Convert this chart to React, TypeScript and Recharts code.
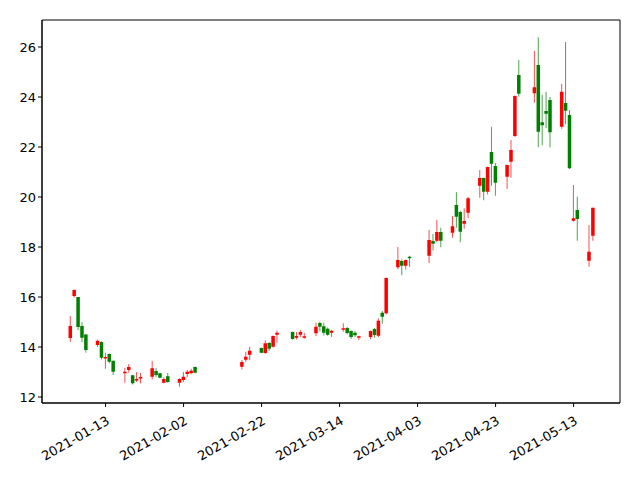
import { Bar, BarChart, ReferenceArea, XAxis, YAxis } from 'recharts'

// day index counted from 2021-01-01
const days = [3, 4, 5, 6, 7, 10, 11, 12, 13, 14, 17, 18, 19, 20, 21, 24, 25, 26, 27, 28, 31, 32, 33, 34, 35, 47, 48, 49, 52, 53, 54, 55, 56, 60, 61, 62, 63, 66, 67, 68, 69, 70, 73, 74, 75, 76, 77, 80, 81, 82, 83, 84, 87, 88, 89, 90, 95, 96, 97, 98, 101, 102, 103, 104, 105, 108, 109, 110, 111, 112, 115, 116, 117, 118, 122, 123, 124, 125, 126, 129, 130, 131, 132, 133, 136, 137]
const opens = [14.36, 16.04, 16.0, 14.84, 14.5, 14.08, 14.2, 13.58, 13.72, 13.45, 12.99, 13.08, 12.87, 12.7, 12.78, 12.81, 13.04, 12.95, 12.57, 12.83, 12.57, 12.68, 12.92, 12.96, 13.2, 13.21, 13.49, 13.69, 13.96, 13.76, 14.16, 14.01, 14.49, 14.6, 14.37, 14.49, 14.41, 14.55, 14.96, 14.83, 14.73, 14.57, 14.73, 14.76, 14.64, 14.57, 14.41, 14.4, 14.72, 14.45, 15.37, 15.35, 17.19, 17.44, 17.25, 17.61, 17.65, 18.24, 18.25, 18.6, 18.57, 19.68, 19.4, 18.93, 19.37, 20.45, 20.76, 20.21, 21.8, 21.24, 20.81, 21.41, 22.44, 24.88, 24.15, 25.28, 22.99, 23.44, 23.88, 22.81, 23.76, 23.28, 19.05, 19.48, 17.45, 18.45]
const closes = [14.84, 16.28, 14.8, 14.37, 13.88, 14.25, 13.57, 13.6, 13.41, 13.01, 13.01, 13.2, 12.55, 12.72, 12.8, 13.15, 12.88, 12.77, 12.72, 12.6, 12.72, 12.81, 13.01, 13.05, 12.97, 13.4, 13.61, 13.85, 13.77, 14.15, 13.93, 14.44, 14.57, 14.32, 14.44, 14.6, 14.43, 14.81, 14.81, 14.57, 14.49, 14.65, 14.75, 14.56, 14.4, 14.47, 14.43, 14.64, 14.48, 15.05, 15.21, 16.76, 17.48, 17.25, 17.48, 17.55, 18.28, 18.13, 18.6, 18.25, 18.83, 19.21, 18.61, 19.04, 19.95, 20.76, 20.21, 21.2, 21.33, 20.57, 21.28, 21.88, 24.04, 24.13, 24.39, 22.61, 22.87, 23.33, 22.59, 24.21, 23.45, 21.15, 19.15, 19.12, 17.81, 19.57]
const highs = [15.24, 16.3, 16.0, 15.0, 14.52, 14.3, 14.22, 13.77, 13.74, 13.45, 13.17, 13.32, 12.87, 13.0, 12.96, 13.44, 13.15, 12.97, 12.79, 12.96, 12.75, 13.0, 13.08, 13.13, 13.22, 13.48, 13.81, 14.01, 13.98, 14.27, 14.2, 14.46, 14.65, 14.62, 14.6, 14.68, 14.57, 14.97, 15.01, 14.97, 14.78, 14.68, 14.95, 14.8, 14.66, 14.64, 14.45, 14.66, 14.76, 15.14, 15.44, 16.78, 18.0, 17.5, 17.5, 17.65, 18.68, 18.52, 19.08, 18.77, 19.24, 20.19, 19.45, 19.55, 20.0, 21.08, 20.78, 21.22, 22.81, 21.36, 21.3, 22.28, 24.06, 25.48, 25.84, 26.39, 24.08, 24.21, 24.0, 24.53, 26.2, 23.48, 20.48, 20.01, 18.88, 19.57]
const lows = [14.2, 15.98, 14.68, 14.2, 13.77, 14.0, 13.5, 13.13, 13.35, 12.88, 12.57, 12.97, 12.5, 12.6, 12.54, 12.7, 12.8, 12.75, 12.55, 12.57, 12.41, 12.6, 12.79, 12.9, 12.95, 13.1, 13.41, 13.47, 13.75, 13.73, 13.85, 13.98, 14.17, 14.3, 14.3, 14.4, 14.33, 14.44, 14.62, 14.46, 14.45, 14.4, 14.61, 14.5, 14.32, 14.4, 14.28, 14.31, 14.37, 14.4, 14.93, 15.3, 17.11, 16.87, 17.1, 17.2, 17.36, 17.86, 18.2, 17.99, 18.37, 18.77, 18.19, 18.73, 19.15, 19.97, 19.87, 20.1, 20.45, 20.05, 20.32, 20.77, 22.4, 24.01, 23.77, 21.99, 22.07, 22.75, 21.99, 22.73, 22.92, 21.12, 19.01, 18.25, 17.21, 18.25]

const tickDays = [12, 32, 52, 72, 92, 112, 132]
const yTicks = [12, 14, 16, 18, 20, 22, 24, 26]

const X_DOMAIN = [-4.3, 143.9]
const Y_DOMAIN = [11.76, 27.08]

const data = days.map((d, i) => ({
  day: d,
  open: opens[i],
  close: closes[i],
  high: highs[i],
  low: lows[i],
  range: [lows[i], highs[i]],
}))

const fmtDay = (d: number) => {
  const t = new Date(Date.UTC(2021, 0, 1 + d))
  return t.toISOString().slice(0, 10)
}

const Candle = (props: any) => {
  const { x, y, width, height, payload } = props
  const { open, close, high, low } = payload
  const up = close >= open
  const color = up ? '#ff0000' : '#008000'
  const k = high > low ? height / (high - low) : 0
  const top = y + (high - Math.max(open, close)) * k
  const bodyH = Math.max(Math.abs(close - open) * k, 1.5)
  const cx = x + width / 2
  return (
    <g>
      <line x1={cx} x2={cx} y1={y} y2={y + height} stroke={color} strokeOpacity={0.7} strokeWidth={1} />
      <rect x={x} y={top} width={width} height={bodyH} fill={color} />
    </g>
  )
}

const TickLabel = ({ x, y, payload }: any) => (
  <text x={x} y={y + 6} transform={`rotate(-30 ${x} ${y + 6})`} textAnchor="end" dominantBaseline="hanging" fontSize={13} fill="#000">
    {fmtDay(payload.value)}
  </text>
)

export default function App() {
  return (
    <div style={{ position: 'absolute', left: 0, top: 0, fontFamily: 'DejaVu Sans' }}>
      <BarChart width={640} height={480} data={data} margin={{ top: 20, right: 20, left: 0, bottom: 0 }} barSize={4}>
        <XAxis
          dataKey="day"
          type="number"
          domain={X_DOMAIN}
          ticks={tickDays}
          tick={<TickLabel />}
          height={77}
          stroke="#000"
          tickSize={4}
          allowDataOverflow
        />
        <YAxis
          type="number"
          domain={Y_DOMAIN}
          ticks={yTicks}
          width={42}
          stroke="#000"
          tickSize={4}
          tick={{ fontSize: 13, fill: '#000' }}
          allowDataOverflow
        />
        <ReferenceArea x1={X_DOMAIN[0]} x2={X_DOMAIN[1]} y1={Y_DOMAIN[0]} y2={Y_DOMAIN[1]} fill="none" stroke="#000" strokeOpacity={1} />
        <Bar dataKey="range" shape={<Candle />} isAnimationActive={false} />
      </BarChart>
    </div>
  )
}
